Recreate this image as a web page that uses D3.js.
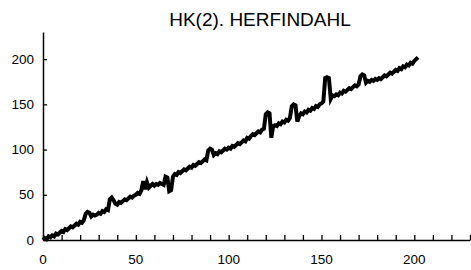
<!DOCTYPE html>
<html>
<head>
<meta charset="utf-8">
<script src="https://cdn.jsdelivr.net/npm/d3@7/dist/d3.min.js"></script>
<style>
  html, body { margin: 0; padding: 0; background: #fff; }
  svg { display: block; }
  text { font-family: "Liberation Sans", Arial, sans-serif; fill: #000; }
</style>
</head>
<body>
<svg id="chart" width="471" height="270"></svg>
<script>
const title = "HK(2). HERFINDAHL";
const xTicks = [0, 50, 100, 150, 200];
const yTicks = [0, 50, 100, 150, 200];
const xMinorTicks = d3.range(0, 231, 10);
// Herfindahl values, one per index 0..202
const yValues = [
  0, 2, 1, 4, 3, 5, 4, 7, 6, 8,
  10, 9, 12, 11, 13, 15, 14, 16, 18, 17,
  20, 19, 22, 29, 31, 30, 26, 28, 27, 28,
  30, 29, 32, 31, 34, 33, 45, 47, 44, 40,
  39, 42, 41, 43, 45, 44, 46, 48, 47, 49,
  50, 52, 51, 55, 65, 56, 64, 58, 60, 62,
  60, 62, 61, 63, 62, 61, 70, 69, 54, 55,
  70, 73, 72, 75, 74, 76, 78, 77, 79, 81,
  80, 83, 82, 84, 86, 85, 87, 89, 88, 99,
  101, 100, 94, 96, 95, 98, 97, 99, 101, 100,
  102, 101, 104, 103, 105, 107, 106, 108, 110, 109,
  113, 112, 115, 117, 116, 118, 120, 119, 122, 123,
  139, 141, 140, 113, 126, 127, 126, 129, 128, 131,
  130, 133, 132, 135, 148, 150, 149, 131, 137, 140,
  139, 142, 141, 144, 143, 146, 145, 148, 147, 150,
  151, 153, 179, 180, 179, 156, 160, 159, 161, 160,
  163, 162, 165, 164, 166, 168, 167, 169, 171, 170,
  172, 181, 183, 182, 174, 176, 175, 177, 176, 178,
  177, 179, 178, 180, 182, 181, 183, 185, 184, 186,
  188, 187, 190, 189, 192, 191, 194, 193, 196, 195,
  198, 200, 202
];
const xValues = yValues.map((d, i) => i);

const svg = d3.select("#chart");
const x = d3.scaleLinear().domain([0, 230]).range([43, 470]);
const y = d3.scaleLinear().domain([0, 230]).range([240, 32]);

svg.append("text")
  .attr("x", 260).attr("y", 26)
  .attr("text-anchor", "middle")
  .attr("font-size", 19)
  .text(title);

const line = d3.line().x((d, i) => x(xValues[i])).y(d => y(d));
svg.append("path")
  .datum(yValues)
  .attr("d", line)
  .attr("fill", "none")
  .attr("stroke", "#000")
  .attr("stroke-width", 4)
  .attr("stroke-linejoin", "miter");

// x axis (ticks inward)
const gx = svg.append("g").attr("transform", "translate(0,240)")
  .call(d3.axisBottom(x).tickValues(xMinorTicks).tickSizeInner(-5).tickSizeOuter(0).tickFormat(""));
gx.select(".domain").attr("stroke-width", 1.5);
gx.selectAll(".tick line").attr("stroke-width", 1.3);
gx.selectAll("text").remove();
svg.append("g").selectAll("text").data(xTicks).join("text")
  .attr("x", d => x(d)).attr("y", 264)
  .attr("text-anchor", "middle").attr("font-size", 13.5)
  .text(d => d);

// y axis (ticks inward)
const gy = svg.append("g").attr("transform", "translate(43,0)")
  .call(d3.axisLeft(y).tickValues(yTicks).tickSizeInner(-4).tickSizeOuter(0).tickFormat(""));
gy.select(".domain").attr("stroke-width", 1.5);
gy.selectAll(".tick line").attr("stroke-width", 1.3);
svg.append("g").selectAll("text").data(yTicks).join("text")
  .attr("x", 34).attr("y", d => y(d) + 4.5)
  .attr("text-anchor", "end").attr("font-size", 13.5)
  .text(d => d);
</script>
</body>
</html>
